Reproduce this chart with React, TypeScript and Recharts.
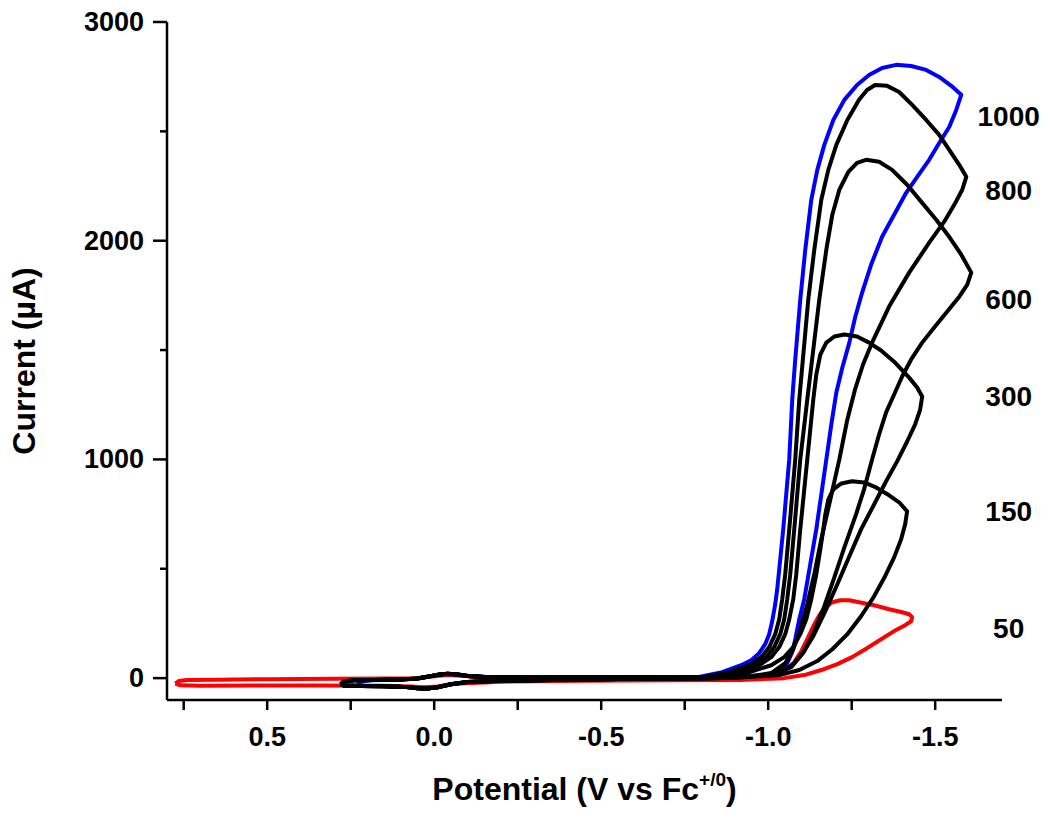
import React from "react";
import { LineChart, Line, XAxis, YAxis, ReferenceDot } from "recharts";

type Pt = [number, number]; // [potential (V vs Fc+/0), current (µA)]

// scan rates in mV/s, one closed CV loop each
const scanRates = ["50", "150", "300", "600", "800", "1000"];
const scanColors = ["#ff0000", "#000000", "#000000", "#000000", "#000000", "#0000ff"];
// order in which the loops are painted (red, blue, then the black ones on top)
const drawOrder = ["50", "1000", "150", "300", "600", "800"];

const loop50: Pt[] = [
  [0.775, -25], [0.765, -13], [0.74, -9], [0.65, -7], [0.5, -5], [0.3, -3], [0.15, -2], [0.05, 0],
  [0.0, 8], [-0.04, 14], [-0.08, 11], [-0.14, 4], [-0.3, 2], [-0.6, 2], [-0.913, 0],
  [-1.003, 9], [-1.048, 32], [-1.078, 73], [-1.099, 123], [-1.117, 178], [-1.135, 237],
  [-1.153, 288], [-1.171, 324], [-1.192, 347], [-1.216, 356], [-1.243, 356], [-1.272, 347],
  [-1.317, 333], [-1.362, 315], [-1.401, 301], [-1.422, 292], [-1.431, 279],
  [-1.428, 260], [-1.41, 242], [-1.377, 215], [-1.338, 178], [-1.296, 137], [-1.251, 96],
  [-1.207, 64], [-1.159, 37], [-1.108, 14], [-1.048, 0], [-0.973, -5], [-0.913, -9],
  [-0.7, -10], [-0.45, -12], [-0.2, -16], [-0.06, -26], [-0.01, -38], [0.03, -42], [0.07, -38],
  [0.15, -35], [0.35, -34], [0.55, -34], [0.7, -35], [0.76, -33], [0.775, -25],
];

const loop150: Pt[] = [
  [0.28, -28], [0.27, -15], [0.24, -10], [0.18, -8], [0.1, -6], [0.05, -2], [0.02, 6], [-0.01, 15],
  [-0.04, 20], [-0.07, 17], [-0.1, 10], [-0.15, 5], [-0.3, 3], [-0.5, 4], [-0.7, 5],
  [-0.853, 5], [-0.943, 27], [-1.009, 59], [-1.048, 96], [-1.075, 142], [-1.096, 201],
  [-1.114, 269], [-1.129, 361], [-1.144, 475], [-1.156, 589], [-1.165, 680], [-1.171, 749],
  [-1.18, 817], [-1.195, 863], [-1.219, 890], [-1.251, 900], [-1.287, 895], [-1.323, 872],
  [-1.362, 836], [-1.392, 804], [-1.416, 763],
  [-1.41, 703], [-1.398, 635], [-1.377, 552], [-1.35, 466], [-1.317, 374], [-1.278, 283],
  [-1.237, 201], [-1.192, 132], [-1.147, 78], [-1.093, 37], [-1.033, 14], [-0.943, 5], [-0.853, 0],
  [-0.6, -3], [-0.4, -7], [-0.2, -12], [-0.1, -18], [-0.05, -28], [-0.01, -42], [0.02, -48],
  [0.05, -46], [0.09, -40], [0.15, -37], [0.22, -36], [0.27, -34], [0.28, -28],
];

const loop300: Pt[] = [
  [0.28, -28], [0.27, -15], [0.24, -10], [0.18, -8], [0.1, -6], [0.05, -2], [0.02, 6], [-0.01, 15],
  [-0.04, 20], [-0.07, 17], [-0.1, 10], [-0.15, 5], [-0.3, 3], [-0.5, 4], [-0.7, 5],
  [-0.838, 5], [-0.913, 27], [-0.973, 59], [-1.009, 96], [-1.033, 142], [-1.051, 201],
  [-1.063, 269], [-1.075, 361], [-1.084, 475], [-1.096, 680], [-1.111, 909], [-1.123, 1091],
  [-1.135, 1274], [-1.144, 1388], [-1.156, 1479], [-1.174, 1534], [-1.198, 1562], [-1.228, 1571],
  [-1.266, 1562], [-1.302, 1534], [-1.338, 1498], [-1.377, 1447], [-1.422, 1374], [-1.446, 1329],
  [-1.461, 1288],
  [-1.455, 1228], [-1.44, 1160], [-1.416, 1082], [-1.386, 991], [-1.353, 900], [-1.317, 794],
  [-1.278, 680], [-1.243, 557], [-1.207, 429], [-1.171, 306], [-1.135, 192], [-1.102, 110],
  [-1.069, 50], [-1.018, 18], [-0.928, 5], [-0.838, 0],
  [-0.6, -3], [-0.4, -7], [-0.2, -12], [-0.1, -18], [-0.05, -28], [-0.01, -42], [0.02, -48],
  [0.05, -46], [0.09, -40], [0.15, -37], [0.22, -36], [0.27, -34], [0.28, -28],
];

const loop600: Pt[] = [
  [0.28, -28], [0.27, -15], [0.24, -10], [0.18, -8], [0.1, -6], [0.05, -2], [0.02, 6], [-0.01, 15],
  [-0.04, 20], [-0.07, 17], [-0.1, 10], [-0.15, 5], [-0.3, 3], [-0.5, 4], [-0.7, 5],
  [-0.823, 5], [-0.898, 27], [-0.958, 59], [-0.994, 96], [-1.018, 142], [-1.036, 201],
  [-1.048, 269], [-1.057, 361], [-1.066, 475], [-1.078, 680], [-1.096, 1000], [-1.117, 1274],
  [-1.135, 1502], [-1.153, 1731], [-1.174, 1959], [-1.192, 2119], [-1.213, 2233], [-1.24, 2315],
  [-1.266, 2356], [-1.293, 2370], [-1.332, 2361], [-1.371, 2324], [-1.416, 2256], [-1.461, 2173],
  [-1.503, 2096], [-1.542, 2018], [-1.578, 1936], [-1.608, 1854],
  [-1.596, 1799], [-1.572, 1744], [-1.533, 1671], [-1.497, 1603], [-1.461, 1534], [-1.428, 1457],
  [-1.401, 1379], [-1.377, 1297], [-1.353, 1215], [-1.332, 1114], [-1.311, 1000], [-1.287, 863],
  [-1.263, 749], [-1.228, 598], [-1.198, 461], [-1.168, 329], [-1.138, 215], [-1.108, 123],
  [-1.072, 59], [-1.018, 18], [-0.928, 5], [-0.823, 0],
  [-0.6, -3], [-0.4, -7], [-0.2, -12], [-0.1, -18], [-0.05, -28], [-0.01, -42], [0.02, -48],
  [0.05, -46], [0.09, -40], [0.15, -37], [0.22, -36], [0.27, -34], [0.28, -28],
];

const loop800: Pt[] = [
  [0.28, -28], [0.27, -15], [0.24, -10], [0.18, -8], [0.1, -6], [0.05, -2], [0.02, 6], [-0.01, 15],
  [-0.04, 20], [-0.07, 17], [-0.1, 10], [-0.15, 5], [-0.3, 3], [-0.5, 4], [-0.7, 5],
  [-0.808, 5], [-0.883, 27], [-0.943, 59], [-0.979, 96], [-1.003, 142], [-1.021, 201],
  [-1.033, 269], [-1.042, 361], [-1.051, 475], [-1.063, 680], [-1.081, 1000], [-1.093, 1274],
  [-1.12, 1731], [-1.138, 1959], [-1.159, 2187], [-1.18, 2324], [-1.204, 2438], [-1.237, 2552],
  [-1.272, 2644], [-1.296, 2689], [-1.32, 2712], [-1.356, 2708], [-1.392, 2680], [-1.431, 2621],
  [-1.473, 2552], [-1.512, 2484], [-1.542, 2415], [-1.572, 2347], [-1.593, 2292],
  [-1.581, 2233], [-1.557, 2164], [-1.527, 2087], [-1.482, 1991], [-1.422, 1854], [-1.362, 1699],
  [-1.311, 1534], [-1.284, 1434], [-1.26, 1320], [-1.237, 1183], [-1.213, 1000], [-1.186, 817],
  [-1.159, 635], [-1.138, 475], [-1.117, 338], [-1.096, 224], [-1.075, 132], [-1.051, 68],
  [-1.009, 23], [-0.928, 5], [-0.808, 0],
  [-0.6, -3], [-0.4, -7], [-0.2, -12], [-0.1, -18], [-0.05, -28], [-0.01, -42], [0.02, -48],
  [0.05, -46], [0.09, -40], [0.15, -37], [0.22, -36], [0.27, -34], [0.28, -28],
];

const loop1000: Pt[] = [
  [0.23, -28], [0.22, -15], [0.19, -10], [0.12, -7], [0.06, -3], [0.03, 4], [0.0, 12], [-0.03, 19],
  [-0.06, 18], [-0.1, 11], [-0.15, 6], [-0.3, 3], [-0.5, 4], [-0.7, 5],
  [-0.793, 5], [-0.862, 27], [-0.919, 59], [-0.949, 82], [-0.973, 114], [-0.991, 155],
  [-1.003, 201], [-1.012, 260], [-1.021, 338], [-1.027, 406], [-1.036, 543], [-1.045, 680],
  [-1.054, 840], [-1.063, 1000], [-1.072, 1274], [-1.081, 1457], [-1.096, 1731], [-1.111, 1959],
  [-1.129, 2187], [-1.147, 2324], [-1.168, 2438], [-1.195, 2552], [-1.228, 2644], [-1.266, 2712],
  [-1.302, 2758], [-1.341, 2790], [-1.383, 2804], [-1.428, 2799], [-1.473, 2781], [-1.512, 2749],
  [-1.548, 2708], [-1.578, 2667],
  [-1.563, 2598], [-1.542, 2520], [-1.512, 2447], [-1.482, 2370], [-1.446, 2292], [-1.413, 2219],
  [-1.377, 2119], [-1.341, 2018], [-1.308, 1890], [-1.281, 1762], [-1.26, 1648], [-1.243, 1534],
  [-1.222, 1420], [-1.204, 1306], [-1.189, 1160], [-1.174, 1000], [-1.159, 840], [-1.144, 680],
  [-1.126, 521], [-1.108, 361], [-1.093, 269], [-1.081, 178], [-1.072, 119], [-1.057, 68],
  [-1.036, 37], [-0.994, 14], [-0.913, 5], [-0.793, 0],
  [-0.6, -3], [-0.4, -7], [-0.2, -12], [-0.1, -18], [-0.05, -28], [-0.01, -42], [0.02, -48],
  [0.05, -46], [0.09, -40], [0.15, -37], [0.21, -36], [0.23, -28],
];

const loops: Record<string, Pt[]> = {
  "50": loop50,
  "150": loop150,
  "300": loop300,
  "600": loop600,
  "800": loop800,
  "1000": loop1000,
};

// where the scan-rate labels sit (right of the switching points)
const labelPotential = -1.72;
const labelCurrents = [228, 763, 1288, 1731, 2233, 2571];

const xTicks = [0.75, 0.5, 0.25, 0, -0.25, -0.5, -0.75, -1, -1.25, -1.5];
const yTicks = [0, 500, 1000, 1500, 2000, 2500, 3000];

const FONT = "'Liberation Sans', Arial, sans-serif";

function fmtX(v: number) {
  if (Math.abs(v) < 1e-9) return "0.0";
  return v.toFixed(1);
}

function XTick(props: any) {
  const { x, y, payload } = props;
  const v = payload.value as number;
  const major = Math.abs(v * 2 - Math.round(v * 2)) < 1e-6;
  return (
    <g>
      <line x1={x} y1={y} x2={x} y2={y + 10} stroke="#000" strokeWidth={2.5} />
      {major && (
        <text x={x} y={y + 46} textAnchor="middle" fontFamily={FONT} fontWeight="bold" fontSize={27} fill="#000">
          {fmtX(v)}
        </text>
      )}
    </g>
  );
}

function YTick(props: any) {
  const { x, y, payload } = props;
  const v = payload.value as number;
  const major = v % 1000 === 0;
  return (
    <g>
      <line x1={x - (major ? 14 : 7)} y1={y} x2={x} y2={y} stroke="#000" strokeWidth={2.5} />
      {major && (
        <text x={x - 23} y={y + 9} textAnchor="end" fontFamily={FONT} fontWeight="bold" fontSize={27} fill="#000">
          {v}
        </text>
      )}
    </g>
  );
}

function XLabel(props: any) {
  const vb = props.viewBox;
  return (
    <text
      x={vb.x + vb.width / 2}
      y={vb.y + 100}
      textAnchor="middle"
      fontFamily={FONT}
      fontWeight="bold"
      fontSize={32}
      fill="#000"
    >
      Potential (V vs Fc
      <tspan fontSize={19} dy={-14}>+/0</tspan>
      <tspan dy={14}>)</tspan>
    </text>
  );
}

function YLabel(props: any) {
  const vb = props.viewBox;
  const cx = vb.x - 32;
  const cy = vb.y + vb.height / 2;
  return (
    <text
      x={cx}
      y={cy}
      transform={`rotate(-90, ${cx}, ${cy})`}
      textAnchor="middle"
      fontFamily={FONT}
      fontWeight="bold"
      fontSize={32}
      fill="#000"
    >
      Current (µA)
    </text>
  );
}

export default function App() {
  return (
    <div style={{ position: "absolute", left: 0, top: 0, background: "#fff" }}>
      <LineChart width={1050} height={819} margin={{ top: 22, right: 48, bottom: 0, left: 67 }}>
        <XAxis
          type="number"
          dataKey="x"
          domain={[-1.7, 0.8]}
          reversed
          ticks={xTicks}
          interval={0}
          height={119}
          tickSize={0}
          tickMargin={0}
          tickLine={false}
          axisLine={{ stroke: "#000", strokeWidth: 2.5 }}
          tick={<XTick />}
          label={{ content: <XLabel /> }}
        />
        <YAxis
          type="number"
          domain={[-100, 3000]}
          ticks={yTicks}
          interval={0}
          width={100}
          tickSize={0}
          tickMargin={0}
          tickLine={false}
          axisLine={{ stroke: "#000", strokeWidth: 2.5 }}
          tick={<YTick />}
          label={{ content: <YLabel /> }}
        />
        {drawOrder.map((rate) => {
          const idx = scanRates.indexOf(rate);
          return (
            <Line
              key={rate}
              data={loops[rate].map(([x, y]) => ({ x, y }))}
              dataKey="y"
              type="linear"
              stroke={scanColors[idx]}
              strokeWidth={4}
              strokeLinejoin="round"
              dot={false}
              activeDot={false}
              isAnimationActive={false}
            />
          );
        })}
        {scanRates.map((rate, i) => (
          <ReferenceDot
            key={"lbl" + rate}
            x={labelPotential}
            y={labelCurrents[i]}
            r={1}
            fill="none"
            stroke="none"
            ifOverflow="visible"
            label={{
              value: rate,
              position: "center",
              fontFamily: FONT,
              fontWeight: "bold",
              fontSize: 28,
              fill: "#000",
            }}
          />
        ))}
      </LineChart>
    </div>
  );
}
